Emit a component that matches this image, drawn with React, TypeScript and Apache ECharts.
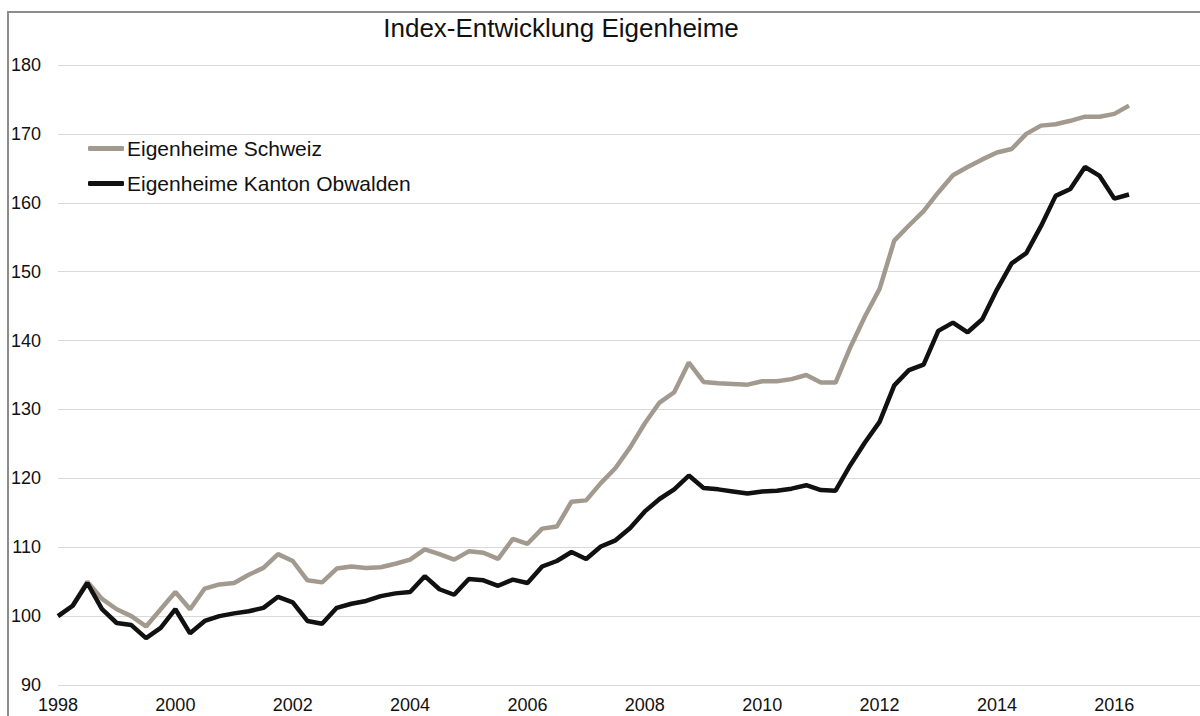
import React, { useEffect, useRef } from "react";
import * as echarts from "echarts";

const TITLE = "Index-Entwicklung Eigenheime";
const SERIES_NAMES = ["Eigenheime Schweiz", "Eigenheime Kanton Obwalden"];

// quarterly time points (decimal years)
const quarters = [
  1998, 1998.25, 1998.5, 1998.75, 1999, 1999.25, 1999.5, 1999.75,
  2000, 2000.25, 2000.5, 2000.75, 2001, 2001.25, 2001.5, 2001.75,
  2002, 2002.25, 2002.5, 2002.75, 2003, 2003.25, 2003.5, 2003.75,
  2004, 2004.25, 2004.5, 2004.75, 2005, 2005.25, 2005.5, 2005.75,
  2006, 2006.25, 2006.5, 2006.75, 2007, 2007.25, 2007.5, 2007.75,
  2008, 2008.25, 2008.5, 2008.75, 2009, 2009.25, 2009.5, 2009.75,
  2010, 2010.25, 2010.5, 2010.75, 2011, 2011.25, 2011.5, 2011.75,
  2012, 2012.25, 2012.5, 2012.75, 2013, 2013.25, 2013.5, 2013.75,
  2014, 2014.25, 2014.5, 2014.75, 2015, 2015.25, 2015.5, 2015.75,
  2016, 2016.25,
];

const schweiz = [
  100, 101.5, 105, 102.5, 101, 100, 98.5, 101,
  103.5, 101, 104, 104.6, 104.8, 106, 107, 109,
  108, 105.2, 104.9, 106.9, 107.2, 107.0, 107.1, 107.6,
  108.2, 109.7, 109, 108.2, 109.4, 109.2, 108.3, 111.2,
  110.5, 112.7, 113, 116.6, 116.8, 119.3, 121.5, 124.5,
  128, 131, 132.5, 136.8, 134, 133.8, 133.7, 133.6,
  134.1, 134.1, 134.4, 135, 133.9, 133.9, 139, 143.5,
  147.5, 154.5, 156.7, 158.8, 161.5, 164, 165.2, 166.3,
  167.3, 167.8, 170, 171.2, 171.4, 171.9, 172.5, 172.5,
  172.9, 174.1,
];

const obwalden = [
  100, 101.5, 104.8, 101, 99, 98.7, 96.8, 98.3,
  101, 97.5, 99.3, 100, 100.4, 100.7, 101.2, 102.8,
  102, 99.3, 98.9, 101.2, 101.8, 102.2, 102.9, 103.3,
  103.5, 105.8, 103.9, 103.1, 105.4, 105.2, 104.4, 105.3,
  104.8, 107.2, 108, 109.3, 108.3, 110.1, 111, 112.8,
  115.2, 117, 118.4, 120.4, 118.6, 118.4, 118.1, 117.8,
  118.1, 118.2, 118.5, 119, 118.3, 118.2, 121.9, 125.2,
  128.2, 133.5, 135.7, 136.5, 141.4, 142.6, 141.2, 143.1,
  147.4, 151.2, 152.7, 156.6, 161, 162, 165.2, 163.9,
  160.6, 161.2,
];

const X_MIN = 1998;
const X_MAX = 2017.46;
const Y_MIN = 90;
const Y_MAX = 180;

const FONT = "'Liberation Sans', Arial, sans-serif";

export default function App() {
  const ref = useRef<HTMLDivElement>(null);

  useEffect(() => {
    document.body.style.margin = "0";
    const chart = echarts.init(ref.current!, undefined, { renderer: "svg" });
    const toPairs = (vals: number[]) => vals.map((v, i) => [quarters[i], v]);
    chart.setOption({
      animation: false,
      backgroundColor: "#ffffff",
      textStyle: { fontFamily: FONT },
      graphic: [
        {
          type: "rect",
          shape: { x: 8, y: 12, width: 1400, height: 900 },
          style: { fill: "none", stroke: "#8c8c8c", lineWidth: 2 },
          silent: true,
        },
        {
          type: "text",
          x: 561,
          y: 28,
          style: {
            text: TITLE,
            fontSize: 26,
            fontFamily: FONT,
            fill: "#111111",
            textAlign: "center",
            textVerticalAlign: "middle",
          },
        },
      ],
      legend: {
        orient: "vertical",
        left: 88,
        top: 138,
        padding: 0,
        itemWidth: 36,
        itemHeight: 5,
        itemGap: 14,
        icon: "roundRect",
        textStyle: { fontSize: 21, color: "#111111", fontFamily: FONT, padding: [0, 0, 0, -2] },
        data: SERIES_NAMES,
      },
      grid: { left: 58, right: 0, top: 65, bottom: 31, containLabel: false },
      xAxis: {
        type: "value",
        min: X_MIN,
        max: X_MAX,
        interval: 2,
        axisLine: { show: false },
        axisTick: { show: false },
        splitLine: { show: false },
        axisLabel: {
          fontSize: 18,
          color: "#111111",
          margin: 11,
          fontFamily: FONT,
          showMaxLabel: false,
          formatter: (v: number) => (Number.isInteger(v) && v % 2 === 0 ? String(v) : ""),
        },
      },
      yAxis: {
        type: "value",
        min: Y_MIN,
        max: Y_MAX,
        interval: 10,
        axisLine: { show: false },
        axisTick: { show: false },
        splitLine: { lineStyle: { color: "#d9d9d9", width: 1 } },
        axisLabel: { fontSize: 18, color: "#111111", margin: 17, fontFamily: FONT },
      },
      series: [
        {
          name: SERIES_NAMES[0],
          type: "line",
          data: toPairs(schweiz),
          showSymbol: false,
          symbol: "none",
          lineStyle: { width: 4.5, color: "#a39a8f" },
          itemStyle: { color: "#a39a8f" },
        },
        {
          name: SERIES_NAMES[1],
          type: "line",
          data: toPairs(obwalden),
          showSymbol: false,
          symbol: "none",
          lineStyle: { width: 4.5, color: "#111111" },
          itemStyle: { color: "#111111" },
        },
      ],
    });
    return () => chart.dispose();
  }, []);

  return <div ref={ref} style={{ width: 1200, height: 716 }} />;
}
